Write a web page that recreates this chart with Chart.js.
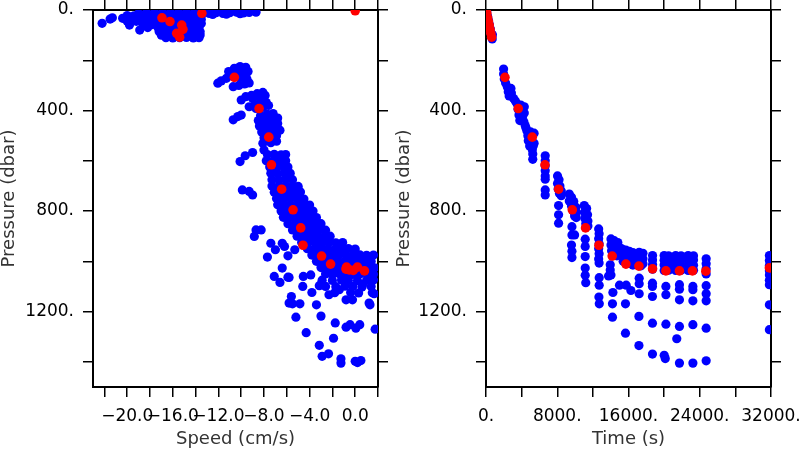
<!DOCTYPE html>
<html><head><meta charset="utf-8">
<script src="https://cdn.jsdelivr.net/npm/chart.js@4/dist/chart.umd.min.js"></script>
<style>
html,body{margin:0;padding:0;background:#fff;width:800px;height:450px;overflow:hidden}
#c1{position:absolute;left:0;top:0;width:400px;height:450px}
#c2{position:absolute;left:380px;top:0;width:420px;height:450px}
</style></head><body>
<canvas id="c1" width="400" height="450"></canvas>
<canvas id="c2" width="420" height="450"></canvas>
<script>
// ---------- tick values and labels ----------
const speedTickValues = [-22,-20,-18,-16,-14,-12,-10,-8,-6,-4,-2,0,2];
const speedTickLabels = ['','\u221220.0','','\u221216.0','','\u221212.0','','\u22128.0','','\u22124.0','','0.0',''];
const pressureTickValues = [0,200,400,600,800,1000,1200,1400];
const pressureTickLabels = ['0.','','400.','','800.','','1200.',''];
const timeTickValues = [0,4000,8000,12000,16000,20000,24000,28000,32000];
const timeTickLabels = ['0.','','8000.','','16000.','','24000.','','32000.'];

// ---------- left panel: speed (cm/s) vs pressure (dbar) ----------
const speedPressureBlue = [
[-22.2,53],[-21.5,36],[-21.3,31],
[-20.4,33],[-20.0,45],[-19.6,28],[-19.8,60],[-19.2,45],[-18.9,80],[-18.6,62],[-18.4,40],[-18.2,70],[-17.8,58],
[-19.0,14],[-18.3,10],[-17.6,12],[-16.9,9],[-16.2,12],[-15.5,9],[-14.8,12],[-14.1,9],[-13.4,12],[-12.8,14],[-12.2,11],[-11.6,14],[-11.0,11],[-10.4,9],[-9.8,12],[-9.3,10],[-8.7,9],[-12.5,18],[-11.3,17],[-10.1,15],
[-20.0,22],[-19.4,23],[-18.8,21],[-18.2,22],[-17.6,24],[-17.0,21],[-16.4,22],[-15.8,23],[-15.2,21],[-14.6,22],[-14.0,24],[-13.5,22],
[-19.3,38],[-18.7,37],[-18.1,39],[-17.5,38],[-16.9,36],[-16.3,38],[-15.7,39],[-15.1,37],[-14.5,38],[-13.9,40],[-13.5,37],
[-18.0,54],[-17.4,55],[-16.8,53],[-16.2,54],[-15.6,56],[-15.0,54],[-14.4,53],[-13.8,55],[-13.5,54],
[-17.3,70],[-16.7,71],[-16.1,69],[-15.5,70],[-14.9,72],[-14.3,70],[-13.7,69],
[-17.2,86],[-16.6,85],[-16.0,87],[-15.4,86],[-14.8,84],[-14.2,86],[-13.6,87],
[-17.0,100],[-16.4,101],[-15.8,99],[-15.2,100],[-14.6,102],[-14.0,100],[-13.6,99],
[-16.6,110],[-16.0,111],[-15.4,110],[-14.8,109],[-14.2,111],[-13.7,110],
[-11.1,245],[-10.6,232],[-10.1,225],[-9.6,228],[-9.4,245],[-10.0,248],[-10.5,255],[-9.6,262],[-10.1,268],[-9.5,275],[-11.0,262],[-12.05,291],[-11.75,282],[-11.3,272],
[-10.7,305],[-10.2,300],[-9.7,294],[-9.3,290],
[-9.6,345],[-9.1,340],[-8.6,333],[-8.1,328],[-7.9,340],[-8.4,348],[-9.0,352],[-10.0,358],
[-9.3,385],[-8.8,378],[-8.3,372],[-7.8,368],[-7.6,380],[-8.1,388],[-8.7,392],
[-10.7,437],[-10.3,424],[-10.0,418],
[-8.3,420],[-7.7,415],[-7.2,412],[-8.5,440],[-7.9,438],[-7.3,435],[-6.8,430],[-8.4,462],[-7.8,460],[-7.2,458],[-6.8,452],
[-8.2,485],[-7.6,482],[-7.0,480],[-6.6,478],[-8.0,508],[-7.5,506],[-6.9,500],[-8.1,530],[-7.4,528],[-6.9,522],
[-8.0,557],[-9.0,567],[-9.65,580],[-10.1,603],
[-7.7,575],[-7.1,574],[-6.5,576],[-6.1,575],
[-7.8,600],[-7.2,601],[-6.6,599],[-6.1,600],
[-7.5,625],[-6.9,626],[-6.3,624],[-5.9,625],
[-7.4,650],[-6.8,651],[-6.2,649],[-5.7,650],
[-7.3,675],[-6.7,676],[-6.1,674],[-5.5,675],
[-7.3,700],[-6.7,701],[-6.1,699],[-5.5,700],[-5.0,702],
[-7.1,725],[-6.5,724],[-5.9,726],[-5.3,725],[-4.8,724],
[-6.9,750],[-6.3,751],[-5.7,749],[-5.1,750],[-4.5,752],
[-6.8,775],[-6.2,774],[-5.6,776],[-5.0,775],[-4.4,774],[-4.0,776],
[-6.5,800],[-5.9,801],[-5.3,799],[-4.7,800],[-4.1,802],[-3.7,800],
[-6.3,825],[-5.7,824],[-5.1,826],[-4.5,825],[-3.9,824],[-3.4,826],
[-5.9,850],[-5.3,851],[-4.7,849],[-4.1,850],[-3.5,852],[-3.0,850],
[-5.5,875],[-4.9,874],[-4.3,876],[-3.7,875],[-3.1,874],[-2.6,876],
[-5.1,900],[-4.5,901],[-3.9,899],[-3.3,900],[-2.7,902],[-2.2,900],
[-4.7,925],[-4.1,924],[-3.5,926],[-2.9,925],[-2.3,924],[-1.7,926],[-1.1,925],
[-4.2,950],[-3.6,951],[-3.0,949],[-2.4,950],[-1.8,952],[-1.2,950],[-0.6,949],[0.0,951],
[-3.8,975],[-3.2,974],[-2.6,976],[-2.0,975],[-1.4,974],[-0.8,976],[-0.2,975],[0.4,974],[1.0,976],[1.6,975],
[-3.4,1000],[-2.8,1001],[-2.2,999],[-1.6,1000],[-1.0,1002],[-0.4,1000],[0.2,999],[0.8,1001],[1.4,1000],
[-3.0,1025],[-2.4,1024],[-1.8,1026],[-1.2,1025],[-0.6,1024],[0.0,1026],[0.6,1025],[1.2,1024],[1.7,1026],
[-2.6,1050],[-2.0,1051],[-1.4,1049],[-0.8,1050],[-0.2,1052],[0.4,1050],[1.0,1049],[1.6,1051],
[-2.9,1075],[-2.0,1076],[-1.2,1074],[-0.6,1075],[0.2,1077],[1.0,1075],[1.6,1074],
[-2.6,1100],[-1.7,1101],[-0.9,1099],[-0.2,1100],[0.6,1102],[1.4,1100],
[-1.8,1125],[-0.4,1124],[0.3,1126],[1.5,1125],
[-9.9,716],[-9.3,722],[-9.0,736],[-8.7,875],[-8.25,875],[-8.85,901],[-7.4,928],[-6.4,928],[-6.2,941],[-7.7,983],[-7.0,954],[-5.9,978],[-5.3,954],
[-6.4,1027],[-5.8,1064],[-7.1,1060],[-6.6,1084],[-5.9,1063],[-4.55,1060],[-3.9,1054],[-4.6,1100],[-3.15,1097],[-3.8,1124],[-3.0,1093],[-5.6,1140],[-2.3,1133],[-1.4,1113],[0.64,1093],[1.66,1129],[1.22,1166],
[-5.8,1166],[-5.5,1169],[-4.85,1169],[-3.4,1173],[-5.2,1222],[-3.0,1218],[-1.75,1245],[-0.8,1153],[-0.24,1153],[1.3,1173],[-0.8,1262],[-0.45,1252],[0.06,1266],[0.4,1252],[1.75,1270],
[-4.3,1284],[-1.9,1306],[-3.15,1334],[-2.9,1378],[-2.34,1368],[-1.25,1388],[-1.25,1405],[0.0,1398],[0.2,1403],[0.5,1395]
];
const speedPressureRed = [
[-16.95,31],[-16.25,46],[-15.22,60],[-15.11,77],[-15.66,93],[-15.4,108],[-13.45,13],[0,3],
[-10.6,268],[-8.43,392],[-7.58,506],[-7.35,616],[-6.45,713],[-5.45,795],[-4.78,867],[-4.58,936],[-2.95,979],[-2.16,1011],
[-0.81,1031],[-0.76,1023],[-0.52,1034],[-0.17,1036],[0.2,1023],[0.81,1038]
];

// ---------- right panel: time (s) vs pressure (dbar) ----------
const timePressureBlue = [
[80,8],[180,25],[280,42],[380,58],[480,75],[560,92],[640,105],[700,115],[720,98],
[1975,235],[1975,255],[2050,275],[2200,290],
[2400,306],[2800,312],[2500,325],[2850,330],[2600,342],[3100,352],[3300,362],
[3500,374],[3900,378],[4300,385],[3600,395],[4000,400],[4300,410],[3700,418],[4100,425],[3800,440],[4250,445],[4400,460],[4500,470],
[4600,481],[5000,485],[5400,490],[4700,500],[5100,505],[4750,520],[5150,525],[5400,530],[4900,541],[5300,541],[5200,556],
[5250,573],[5250,594],
[6650,580],[6650,600],[6650,620],[6650,640],[6650,660],[6650,673],[6650,716],[6650,736],
[8030,660],[8200,675],[8030,690],[8300,700],[8100,712],[8450,720],[8250,730],[8450,739],[8150,778],[8150,815],[8150,848],
[9350,732],[9600,745],[9350,760],[9850,762],[9600,780],[10100,785],[9800,800],[10130,805],[9950,820],[10130,826],[9650,862],[9650,895],[9950,895],[9600,935],[9650,960],[9650,985],
[11030,778],[11300,790],[11050,805],[11400,815],[11100,830],[11440,840],[11200,850],[11440,859],[11140,912],[11140,941],[11140,981],[11140,1027],[11140,1055],[11200,1085],
[12650,871],[12700,890],[12650,910],[12700,930],[12650,950],[12700,970],[12650,991],[12700,1007],[12710,1065],[12710,1095],[12680,1142],[12720,1169],
[14030,911],[14400,918],[14800,925],[14030,935],[14400,942],[14990,945],[14100,958],[14500,962],[14990,968],[14200,978],[14700,978],
[13950,1014],[13950,1034],[13760,1058],[14030,1054],[14250,1124],[14200,1169],[14200,1222],
[15290,951],[15700,955],[16100,960],[16490,965],[15290,975],[15700,980],[16100,985],[16490,990],[15400,1000],[15800,1003],[16200,1008],[16490,1015],
[14990,1095],[15740,1095],[16270,1116],[15660,1169],[15660,1286],
[17200,964],[17620,968],[17200,985],[17620,990],[17200,1005],[17620,1010],[17400,1018],[17200,1067],[17200,1089],[17200,1129],[17170,1219],[17170,1335],
[18700,977],[18700,995],[18700,1013],[18700,1031],[18690,1087],[18690,1100],[18690,1140],[18690,1246],[18690,1369],
[20000,977],[20500,978],[21300,977],[21900,978],[22700,977],[23300,978],
[20000,996],[20500,995],[21300,996],[21900,995],[22700,996],[23300,995],
[20000,1015],[20500,1016],[21300,1015],[21900,1016],[22700,1015],[23300,1016],
[20000,1036],[20500,1035],[21300,1036],[21900,1035],[22700,1036],[23300,1035],
[20200,1100],[20200,1133],[20200,1250],[20010,1374],[20130,1387],
[21720,1093],[21720,1111],[21720,1153],[21720,1259],[21420,1308],[21720,1405],
[23230,1100],[23230,1113],[23230,1157],[23230,1252],[23230,1405],
[24720,990],[24720,1010],[24720,1030],[24720,1050],[24720,1097],[24720,1129],[24720,1157],[24720,1266],[24720,1396],
[31820,977],[31820,997],[31820,1017],[31820,1037],[31820,1054],[31820,1075],[31820,1093],[31820,1173],[31820,1272]
];
const timePressureRed = [
[0,3],[90,13],[180,31],[270,46],[360,60],[450,77],[540,93],[630,108],
[2130,268],[3620,392],[5195,506],[6620,616],[8150,713],[9690,795],[11180,867],[12680,936],[14170,979],[15710,1011],
[17170,1019],[18700,1030],[20200,1038],[21720,1038],[23180,1038],[24680,1039],[31820,1026]
];

// ---------- chart setup ----------
const FONT = 'DejaVu Sans';
const toXY = arr => arr.map(([x, y]) => ({x, y}));

function frameAxis(min, max, values, extra) {
  return Object.assign({
    type: 'linear', min, max,
    afterBuildTicks: s => { s.ticks = values.map(v => ({value: v})); },
    grid: {drawOnChartArea: false, drawTicks: true, tickLength: 10, color: '#000', lineWidth: 1.5},
    border: {display: true, color: '#000', width: 2}
  }, extra);
}

function makeChart(canvasId, xMin, xMax, xVals, xLabels, xTitle, leftWidth, rightWidth, yTitlePad, blue, red) {
  const tickFont = {family: FONT, size: 17, lineHeight: 1.1};
  return new Chart(document.getElementById(canvasId), {
    type: 'scatter',
    data: {datasets: [
      {data: toXY(red), backgroundColor: '#ff0000', borderColor: '#ff0000', pointRadius: 4.8, borderWidth: 0, clip: 0, order: 0},
      {data: toXY(blue), backgroundColor: '#0000ff', borderColor: '#0000ff', pointRadius: 4.6, borderWidth: 0, clip: 0, order: 1}
    ]},
    options: {
      responsive: false, animation: false, devicePixelRatio: 1, events: [],
      layout: {padding: 0, autoPadding: false},
      plugins: {legend: {display: false}, tooltip: {enabled: false}, title: {display: false}},
      scales: {
        x: frameAxis(xMin, xMax, xVals, {
          axis: 'x', position: 'bottom',
          ticks: {autoSkip: false, maxRotation: 0, minRotation: 0, padding: 10, color: '#000', font: tickFont,
                  callback: (v, i) => xLabels[i]},
          title: {display: true, text: xTitle, color: '#333', font: {family: FONT, size: 18, lineHeight: 1.05}, padding: {top: 0, bottom: 1.5}},
          afterFit: s => { s.height = 63; s.paddingLeft = 0; s.paddingRight = 0; }
        }),
        xTop: frameAxis(xMin, xMax, xVals, {
          axis: 'x', position: 'top', ticks: {display: false},
          afterFit: s => { s.height = 10; s.paddingLeft = 0; s.paddingRight = 0; }
        }),
        y: frameAxis(0, 1500, pressureTickValues, {
          axis: 'y', position: 'left', reverse: true,
          ticks: {autoSkip: false, padding: 9, color: '#000', font: tickFont,
                  callback: (v, i) => pressureTickLabels[i]},
          title: {display: true, text: 'Pressure (dbar)', color: '#333', font: {family: FONT, size: 18, lineHeight: 1.05}, padding: {top: yTitlePad, bottom: 0}},
          afterFit: s => { s.width = leftWidth; s.paddingTop = 0; s.paddingBottom = 0; }
        }),
        yRight: frameAxis(0, 1500, pressureTickValues, {
          axis: 'y', position: 'right', reverse: true, ticks: {display: false},
          afterFit: s => { s.width = rightWidth; s.paddingTop = 0; s.paddingBottom = 0; }
        })
      }
    }
  });
}

makeChart('c1', -23, 2, speedTickValues, speedTickLabels, 'Speed (cm/s)', 93, 22, 0, speedPressureBlue, speedPressureRed);
makeChart('c2', 0, 32000, timeTickValues, timeTickLabels, 'Time (s)', 106, 29, 15, timePressureBlue, timePressureRed);
</script>
</body></html>
